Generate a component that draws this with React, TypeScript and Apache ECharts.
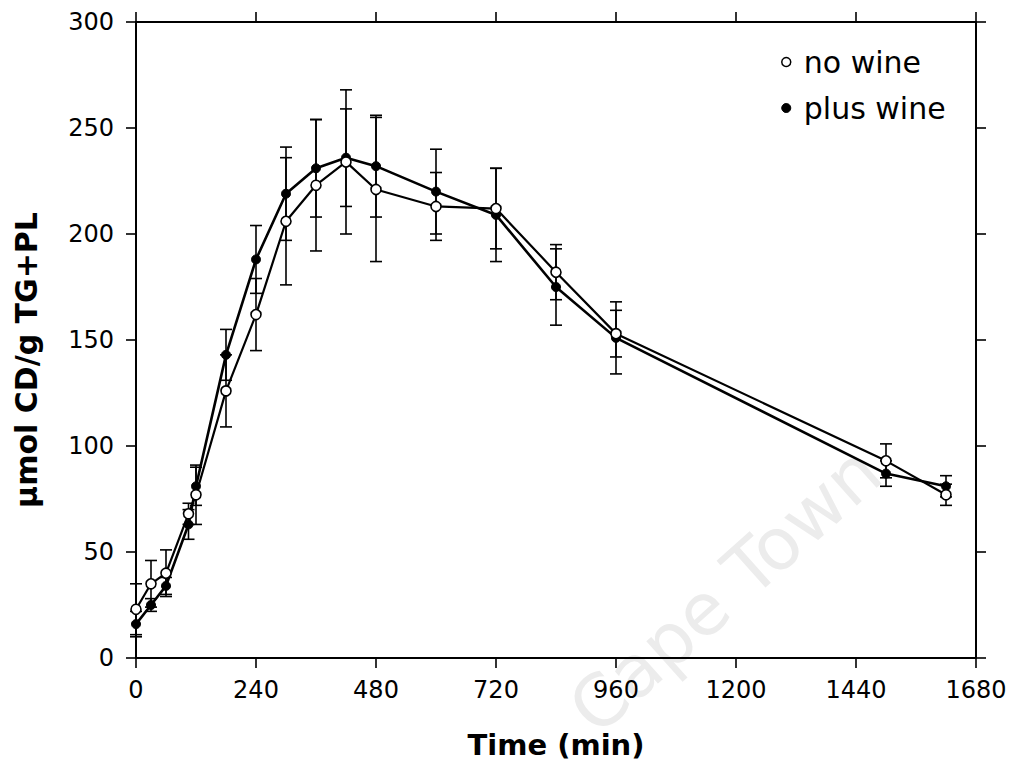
import React, { useEffect, useRef } from "react";
import * as echarts from "echarts";

const times = [0, 30, 60, 105, 120, 180, 240, 300, 360, 420, 480, 600, 720, 840, 960, 1500, 1620];
const noWine = [23, 35, 40, 68, 77, 126, 162, 206, 223, 234, 221, 213, 212, 182, 153, 93, 77];
const noWineSD = [12, 11, 11, 5, 14, 17, 17, 30, 31, 34, 34, 16, 19, 13, 11, 8, 5];
const plusWine = [16, 25, 34, 63, 81, 143, 188, 219, 231, 236, 232, 220, 209, 175, 151, 87, 81];
const plusWineSD = [6, 3, 4, 7, 9, 12, 16, 22, 23, 23, 24, 20, 22, 18, 17, 6, 5];
const xTicks = { min: 0, max: 1680, interval: 240 };
const yTicks = { min: 0, max: 300, interval: 50 };

const FONT = "DejaVu Sans";

function errData(vals: number[], sds: number[]) {
  return times.map((t, i) => [t, vals[i] - sds[i], vals[i] + sds[i]]);
}

function errRender(params: any, api: any) {
  const x = api.value(0);
  const lo = api.coord([x, api.value(1)]);
  const hi = api.coord([x, api.value(2)]);
  const w = 6;
  const style = { stroke: "#000", lineWidth: 1.6 };
  return {
    type: "group",
    children: [
      { type: "line", shape: { x1: lo[0], y1: lo[1], x2: hi[0], y2: hi[1] }, style },
      { type: "line", shape: { x1: hi[0] - w, y1: hi[1], x2: hi[0] + w, y2: hi[1] }, style },
      { type: "line", shape: { x1: lo[0] - w, y1: lo[1], x2: lo[0] + w, y2: lo[1] }, style },
    ],
  };
}

export default function App() {
  const ref = useRef<HTMLDivElement>(null);
  useEffect(() => {
    if (!ref.current) return;
    const chart = echarts.init(ref.current, null, { renderer: "svg" });
    const axisCommon = {
      axisLine: { show: true, onZero: false, lineStyle: { color: "#000", width: 2 } },
      axisTick: { show: true, inside: false, length: 10, lineStyle: { color: "#000", width: 1.6 } },
      splitLine: { show: false },
    };
    chart.setOption({
      animation: false,
      backgroundColor: "#fff",
      grid: { left: 136, right: 40, top: 22, bottom: 104 },
      xAxis: [
        {
          ...axisCommon,
          type: "value",
          position: "bottom",
          min: xTicks.min,
          max: xTicks.max,
          interval: xTicks.interval,
          axisLabel: { color: "#000", fontSize: 24, fontFamily: FONT, margin: 20, formatter: (v: number) => String(v) },
          name: "Time (min)",
          nameLocation: "middle",
          nameGap: 72,
          nameTextStyle: { color: "#000", fontSize: 29, fontWeight: "bold", fontFamily: FONT },
        },
        {
          ...axisCommon,
          type: "value",
          position: "top",
          min: xTicks.min,
          max: xTicks.max,
          interval: xTicks.interval,
          axisLabel: { show: false },
        },
      ],
      yAxis: [
        {
          ...axisCommon,
          type: "value",
          position: "left",
          min: yTicks.min,
          max: yTicks.max,
          interval: yTicks.interval,
          axisLabel: { color: "#000", fontSize: 24, fontFamily: FONT, margin: 22 },
        },
        {
          ...axisCommon,
          type: "value",
          position: "right",
          min: yTicks.min,
          max: yTicks.max,
          interval: yTicks.interval,
          axisLabel: { show: false },
        },
      ],
      legend: {
        orient: "vertical",
        left: 776,
        top: 42,
        itemGap: 16,
        itemWidth: 9,
        itemHeight: 9,
        icon: "circle",
        textStyle: { color: "#000", fontSize: 30, fontFamily: FONT, padding: [0, 0, 0, 8] },
        data: [
          { name: "no wine", itemStyle: { color: "#fff", borderColor: "#000", borderWidth: 1.5 } },
          { name: "plus wine", itemStyle: { color: "#000", borderColor: "#000", borderWidth: 1 } },
        ],
      },
      graphic: [
        {
          type: "text",
          x: 725,
          y: 590,
          rotation: 0.73,
          z: -10,
          style: {
            text: "Cape Town",
            fill: "#ececec",
            font: `72px ${FONT}`,
            align: "center",
            verticalAlign: "middle",
          },
        },
        {
          type: "text",
          x: 26,
          y: 360,
          rotation: Math.PI / 2,
          style: {
            text: "µmol CD/g TG+PL",
            fill: "#000",
            font: `bold 30px ${FONT}`,
            align: "center",
            verticalAlign: "middle",
          },
        },
      ],
      series: [
        {
          name: "plus wine err",
          type: "custom",
          renderItem: errRender,
          data: errData(plusWine, plusWineSD),
          encode: { x: 0, y: [1, 2] },
          z: 1,
          silent: true,
        },
        {
          name: "no wine err",
          type: "custom",
          renderItem: errRender,
          data: errData(noWine, noWineSD),
          encode: { x: 0, y: [1, 2] },
          z: 1,
          silent: true,
        },
        {
          name: "plus wine",
          type: "line",
          data: times.map((t, i) => [t, plusWine[i]]),
          symbol: "circle",
          symbolSize: 9,
          showAllSymbol: true,
          lineStyle: { color: "#000", width: 2.6 },
          itemStyle: { color: "#000", borderColor: "#000", borderWidth: 1 },
          z: 3,
        },
        {
          name: "no wine",
          type: "line",
          data: times.map((t, i) => [t, noWine[i]]),
          symbol: "circle",
          symbolSize: 10,
          showAllSymbol: true,
          lineStyle: { color: "#000", width: 2.2 },
          itemStyle: { color: "#fff", borderColor: "#000", borderWidth: 1.6 },
          z: 4,
        },
      ],
    });
    return () => chart.dispose();
  }, []);
  return (
    <div
      ref={ref}
      style={{ position: "fixed", left: 0, top: 0, width: 1016, height: 764, background: "#fff" }}
    />
  );
}
